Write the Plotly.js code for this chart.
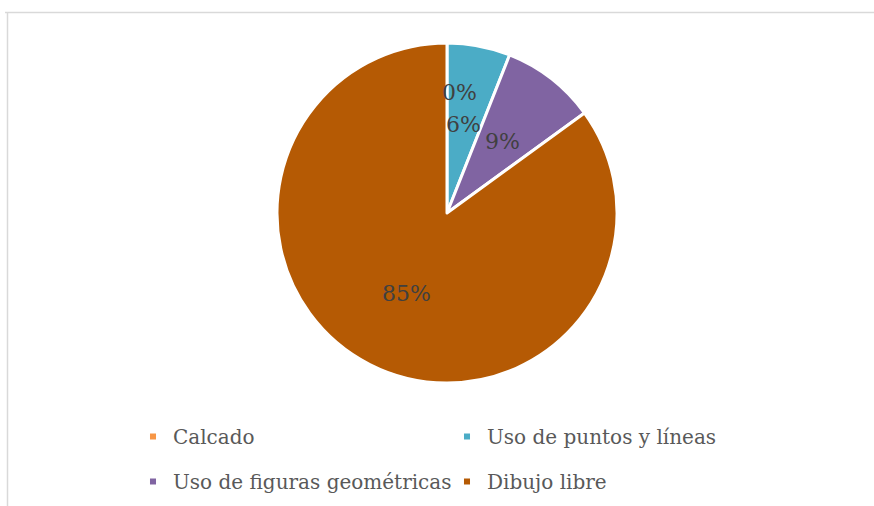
<!DOCTYPE html>
<html><head><meta charset="utf-8">
<script src="https://cdn.plot.ly/plotly-3.0.1.min.js"></script>
<style>
html,body{margin:0;padding:0;background:#fff;}
#chart{width:874px;height:506px;}
path.legendpie{transform:translate(20px,0px) scale(0.67);}
</style>
</head><body>
<div id="chart"></div>
<script>
var categories = ["Calcado", "Uso de puntos y líneas", "Uso de figuras geométricas", "Dibujo libre"];
var values = [0, 6, 9, 85];
var colors = ["#F79646", "#4BACC6", "#8064A2", "#B55A04"];

var W = 874, H = 506;
var font = "'DejaVu Serif', 'Liberation Serif', serif";
// pie placement in pixels (centre and radius)
var PCX = 447, PCY = 213, PR = 170;
var dom = {x: [(PCX-PR)/W, (PCX+PR)/W], y: [1-(PCY+PR)/H, 1-(PCY-PR)/H]};
var trace = {
  type: "pie",
  labels: categories,
  values: values,
  sort: false,
  direction: "clockwise",
  rotation: 0,
  marker: {colors: colors, line: {color: "#ffffff", width: 3}},
  textinfo: "none",
  domain: dom,
  showlegend: true,
  hoverinfo: "label+percent"
};

// percent labels, placed at each slice's mid-angle (Excel "best fit" style)
var total = values.reduce(function(a, b){ return a + b; }, 0);
var annotations = [];
var cum = 0;
values.forEach(function(v, i){
  var mid = (cum + v / 2) / total * 2 * Math.PI;
  var frac = v === 0 ? 0.71 : 0.53;
  var px = PCX + Math.sin(mid) * PR * frac;
  var py = PCY - Math.cos(mid) * PR * frac;
  annotations.push({
    xref: "paper", yref: "paper", x: px / W, y: 1 - py / H,
    xanchor: "center", yanchor: "middle", xshift: v === 0 ? 13 : 0, showarrow: false,
    text: Math.round(v / total * 100) + "%",
    font: {family: font, size: 22, color: "#404040"}
  });
  cum += v;
});

var layout = {
  width: W, height: H,
  margin: {l: 0, r: 0, t: 0, b: 0},
  paper_bgcolor: "#ffffff",
  showlegend: true,
  legend: {
    orientation: "h", x: 133/W, xanchor: "left", y: 1-451/H, yanchor: "middle",
    entrywidth: 269, entrywidthmode: "pixels",
    font: {family: font, size: 20, color: "#595959"},
    traceorder: "normal", itemclick: false, itemdoubleclick: false
  },
  annotations: annotations,
  shapes: [
    {type: "line", xref: "paper", yref: "paper", x0: 5/W, x1: 1, y0: 1-12.5/H, y1: 1-12.5/H, line: {color: "#D9D9D9", width: 1.5}},
    {type: "line", xref: "paper", yref: "paper", x0: 7.5/W, x1: 7.5/W, y0: 1-12.5/H, y1: 0, line: {color: "#D9D9D9", width: 1.5}}
  ]
};
Plotly.newPlot("chart", [trace], layout, {displayModeBar: false, staticPlot: true}).then(function(gd){
  // widen the gap between legend rows to match the reference
  var sb = gd.querySelector(".legend .scrollbox");
  if (sb) sb.removeAttribute("clip-path");
  var items = gd.querySelectorAll(".legend .traces");
  var re = /translate\(([-\d.]+),\s*([-\d.]+)\)/;
  var ys = [];
  items.forEach(function(el){
    var m = re.exec(el.getAttribute("transform") || "");
    if (m) ys.push(parseFloat(m[2]));
  });
  var minY = Math.min.apply(null, ys);
  items.forEach(function(el){
    var m = re.exec(el.getAttribute("transform") || "");
    if (m && parseFloat(m[2]) > minY + 1) {
      el.setAttribute("transform", "translate(" + m[1] + "," + (parseFloat(m[2]) + 16) + ")");
    }
  });
});
</script>
</body></html>
